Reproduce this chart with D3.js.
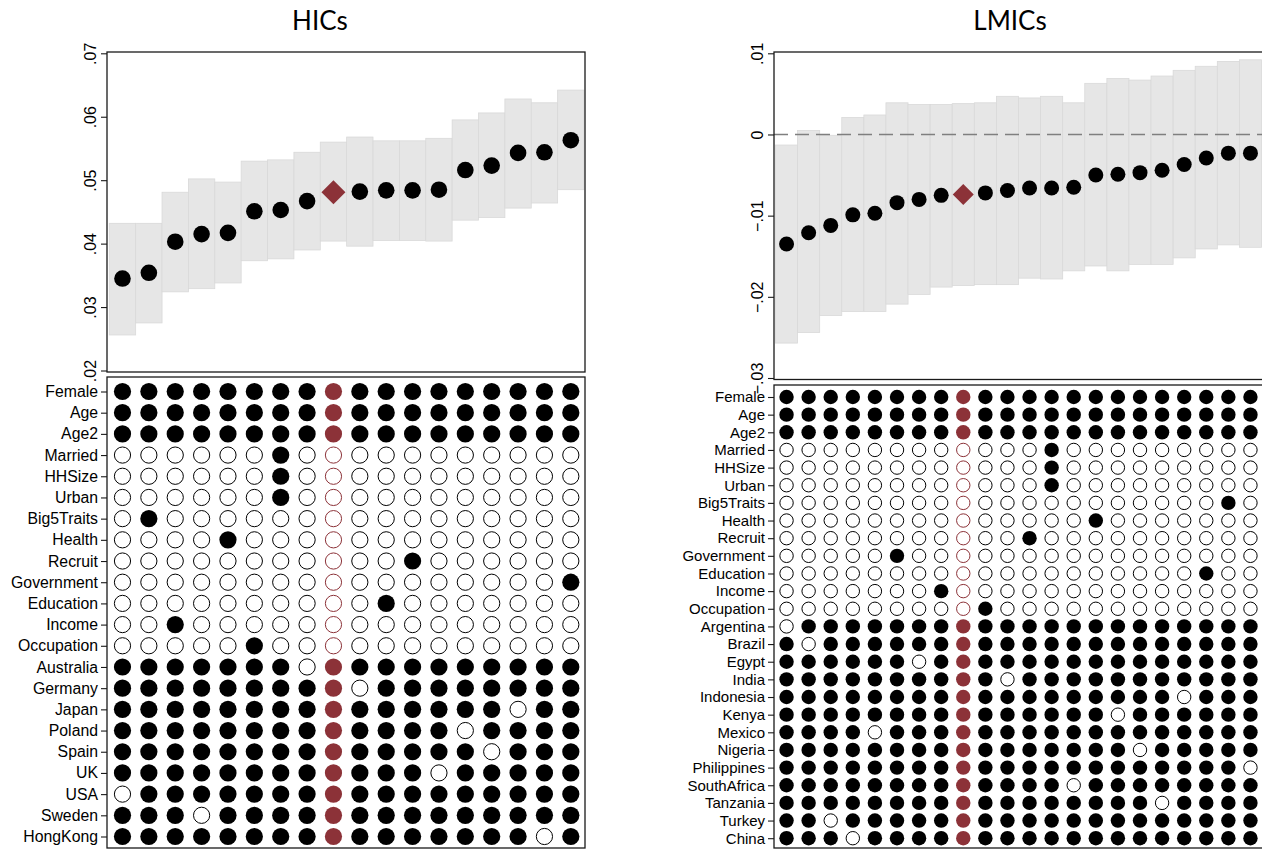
<!DOCTYPE html>
<html><head><meta charset="utf-8">
<script src="https://cdn.jsdelivr.net/npm/d3@7"></script>
<style>body{margin:0;background:#fff}svg{display:block}</style>
</head><body><svg id="c" width="1262" height="850"></svg>
<script>
// ---------- DATA ----------
const hicCoef = [0.0345,0.0354,0.0403,0.0415,0.0417,0.0451,0.0453,0.0467,0.0481,0.0482,0.0484,0.0484,0.0485,0.0516,0.0523,0.0543,0.0544,0.0563];
const hicLo   = [0.0256,0.0275,0.0324,0.0329,0.0338,0.0373,0.0376,0.0390,0.0404,0.0396,0.0405,0.0405,0.0404,0.0437,0.0441,0.0456,0.0464,0.0485];
const hicHi   = [0.0432,0.0432,0.0481,0.0502,0.0497,0.0530,0.0532,0.0544,0.0560,0.0568,0.0562,0.0562,0.0566,0.0595,0.0606,0.0628,0.0622,0.0642];
const hicTicks = [0.02,0.03,0.04,0.05,0.06,0.07];
const hicBaseline = 9;

const lmicCoef = [-0.0135,-0.0121,-0.0112,-0.0099,-0.0097,-0.0084,-0.0080,-0.0075,-0.0074,-0.0072,-0.0069,-0.0066,-0.0066,-0.0065,-0.0050,-0.0049,-0.0047,-0.0044,-0.0037,-0.0029,-0.0023,-0.0023];
const lmicLo   = [-0.0257,-0.0244,-0.0223,-0.0218,-0.0218,-0.0209,-0.0197,-0.0188,-0.0186,-0.0185,-0.0185,-0.0177,-0.0178,-0.0168,-0.0162,-0.0168,-0.0160,-0.0160,-0.0152,-0.0141,-0.0136,-0.0139];
const lmicHi   = [-0.0013,0.0005,-0.0001,0.0021,0.0024,0.0039,0.0037,0.0037,0.0038,0.0039,0.0047,0.0045,0.0047,0.0039,0.0063,0.0069,0.0067,0.0072,0.0079,0.0084,0.0090,0.0092];
const lmicTicks = [-0.03,-0.02,-0.01,0,0.01];
const lmicBaseline = 9;

const alwaysRows = ["Female","Age","Age2"];
const controlRows = ["Married","HHSize","Urban","Big5Traits","Health","Recruit","Government","Education","Income","Occupation"];
const hicControlSpec  = [7,7,7,2,5,12,18,11,3,6];
const lmicControlSpec = [13,13,13,21,15,12,6,20,8,10];

const hicCountries = ["Australia","Germany","Japan","Poland","Spain","UK","USA","Sweden","HongKong"];
const hicDropSpec  = [8,10,16,14,15,13,1,4,17];
const lmicCountries = ["Argentina","Brazil","Egypt","India","Indonesia","Kenya","Mexico","Nigeria","Philippines","SouthAfrica","Tanzania","Turkey","China"];
const lmicDropSpec  = [1,2,7,11,19,16,5,17,22,14,18,3,4];

// ---------- DRAW ----------
const svg = d3.select("#c");
const RED = "#8c3238";
const fmt = d => d === 0 ? "0" : d3.format(".2f")(d).replace("0.", ".");

function panel(cfg) {
  const n = cfg.coef.length;
  const specs = d3.range(1, n + 1);
  const x = d3.scaleBand().domain(specs).range(cfg.bandRange).padding(0);
  const y = d3.scaleLinear().domain(cfg.yDomain).range(cfg.yRange);
  const g = svg.append("g");

  // title
  g.append("text").attr("x", cfg.titleX).attr("y", 30).attr("text-anchor", "middle")
    .attr("font-family", "Lato, 'Open Sans', sans-serif").attr("font-size", 26).attr("fill", "#000")
    .text(cfg.title);

  // CI bars
  const rows = specs.map((s, i) => ({s, c: cfg.coef[i], lo: cfg.lo[i], hi: cfg.hi[i]}));
  g.append("g").selectAll("rect").data(rows).join("rect")
    .attr("x", d => x(d.s)).attr("width", x.bandwidth())
    .attr("y", d => y(d.hi)).attr("height", d => y(d.lo) - y(d.hi))
    .attr("fill", "#e6e6e6").attr("stroke", "#d9d9d9").attr("stroke-width", 0.8);

  // zero line
  if (cfg.zeroLine) {
    g.append("line").attr("x1", cfg.top.x0).attr("x2", cfg.top.x1)
      .attr("y1", y(0)).attr("y2", y(0))
      .attr("stroke", "#7f7f7f").attr("stroke-width", 1.3).attr("stroke-dasharray", "14,7");
  }

  // points
  const cx = s => x(s) + x.bandwidth() / 2;
  g.append("g").selectAll("circle").data(rows.filter(d => d.s !== cfg.baseline)).join("circle")
    .attr("cx", d => cx(d.s)).attr("cy", d => y(d.c)).attr("r", cfg.dotR).attr("fill", "#000");
  const b = rows.find(d => d.s === cfg.baseline);
  const dh = cfg.diamond;
  g.append("path")
    .attr("d", `M${cx(b.s)},${y(b.c) - dh}L${cx(b.s) + dh},${y(b.c)}L${cx(b.s)},${y(b.c) + dh}L${cx(b.s) - dh},${y(b.c)}Z`)
    .attr("fill", RED);

  // top frame + axis
  g.append("rect").attr("x", cfg.top.x0).attr("y", cfg.top.y0)
    .attr("width", cfg.top.x1 - cfg.top.x0).attr("height", cfg.top.y1 - cfg.top.y0)
    .attr("fill", "none").attr("stroke", "#1a1a1a").attr("stroke-width", 1.3);
  const ya = g.append("g").attr("transform", `translate(${cfg.top.x0},0)`)
    .call(d3.axisLeft(y).tickValues(cfg.ticks).tickFormat(fmt).tickSize(6));
  ya.select(".domain").remove();
  ya.selectAll(".tick line").attr("stroke", "#1a1a1a").attr("stroke-width", 1.1);
  ya.selectAll(".tick text").attr("transform", "rotate(-90)").attr("x", 0).attr("y", -11).attr("dy", 0)
    .attr("text-anchor", "middle").attr("font-family", "'Liberation Sans', Arial, sans-serif")
    .attr("font-size", 16).attr("fill", "#000");

  // bottom matrix
  const rowNames = alwaysRows.concat(controlRows, cfg.countries);
  const ry = d3.scalePoint().domain(rowNames).range(cfg.rowRange);
  const cells = [];
  specs.forEach(s => {
    alwaysRows.forEach(r => cells.push({s, r, on: true}));
    controlRows.forEach((r, i) => cells.push({s, r, on: cfg.controlSpec[i] === s}));
    cfg.countries.forEach((r, i) => cells.push({s, r, on: cfg.dropSpec[i] !== s}));
  });
  g.append("g").selectAll("circle").data(cells).join("circle")
    .attr("cx", d => cx(d.s)).attr("cy", d => ry(d.r))
    .attr("r", d => d.on ? cfg.cellR : cfg.cellR - 0.5)
    .attr("fill", d => d.on ? (d.s === cfg.baseline ? RED : "#000") : "#fff")
    .attr("stroke", d => d.on ? "none" : (d.s === cfg.baseline ? RED : "#000"))
    .attr("stroke-width", 1);

  g.append("rect").attr("x", cfg.bot.x0).attr("y", cfg.bot.y0)
    .attr("width", cfg.bot.x1 - cfg.bot.x0).attr("height", cfg.bot.y1 - cfg.bot.y0)
    .attr("fill", "none").attr("stroke", "#1a1a1a").attr("stroke-width", 1.3);
  const ra = g.append("g").attr("transform", `translate(${cfg.bot.x0},0)`)
    .call(d3.axisLeft(ry).tickSize(6).tickPadding(3));
  ra.select(".domain").remove();
  ra.selectAll(".tick line").attr("stroke", "#1a1a1a").attr("stroke-width", 1.1);
  ra.selectAll(".tick text").attr("font-family", "'Liberation Sans', Arial, sans-serif")
    .attr("font-size", cfg.labelSize).attr("fill", "#000");
}

panel({
  title: "HICs", titleX: 320,
  coef: hicCoef, lo: hicLo, hi: hicHi, ticks: hicTicks, baseline: hicBaseline,
  yDomain: [0.02, 0.07], yRange: [370.5, 53.3],
  bandRange: [109.3, 584],
  top: {x0: 107, x1: 585, y0: 52, y1: 372},
  bot: {x0: 107, x1: 585, y0: 377, y1: 848},
  rowRange: [391.5, 836.5],
  countries: hicCountries, controlSpec: hicControlSpec, dropSpec: hicDropSpec,
  dotR: 8.3, diamond: 12, cellR: 8.6, zeroLine: false, labelSize: 15.8
});

panel({
  title: "LMICs", titleX: 1010,
  coef: lmicCoef, lo: lmicLo, hi: lmicHi, ticks: lmicTicks, baseline: lmicBaseline,
  yDomain: [-0.03, 0.01], yRange: [378, 53.3],
  bandRange: [775.5, 1261.5],
  top: {x0: 774, x1: 1264, y0: 52, y1: 379.5},
  bot: {x0: 774, x1: 1264, y0: 385, y1: 848},
  rowRange: [397, 838.2],
  countries: lmicCountries, controlSpec: lmicControlSpec, dropSpec: lmicDropSpec,
  dotR: 7.5, diamond: 10.5, cellR: 7.2, zeroLine: true, labelSize: 15
});
</script>
</body></html>
